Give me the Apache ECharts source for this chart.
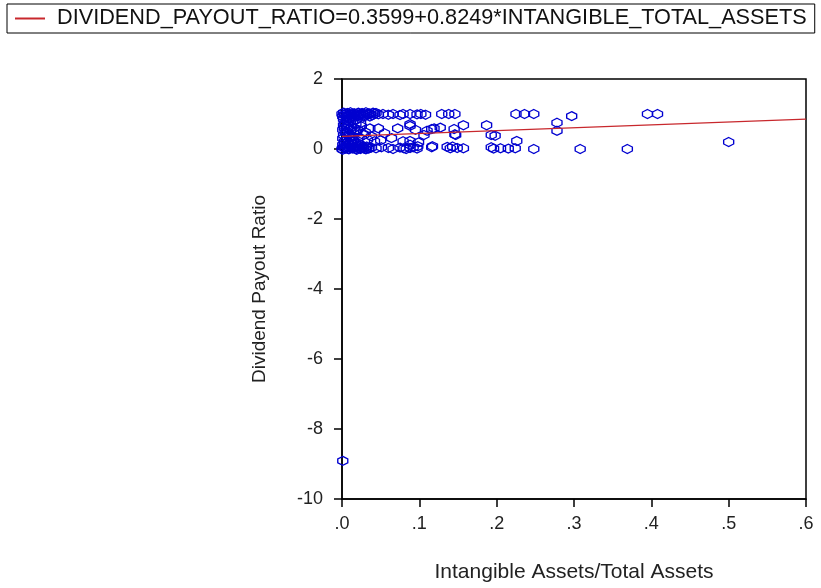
<!DOCTYPE html>
<html>
<head>
<meta charset="utf-8">
<script src="https://cdn.jsdelivr.net/npm/echarts@6/dist/echarts.min.js"></script>
<style>
html,body{margin:0;padding:0;background:#fff;}
#chart{width:821px;height:588px;}
</style>
</head>
<body>
<div id="chart"></div>
<script>
// Scatter observations: intangible assets / total assets (x), dividend payout ratio (y)
const intangibleRatio = [
  0.000,0.003,0.005,0.008,0.010,0.012,0.015,0.017,0.019,0.022,0.024,0.027,0.029,0.032,0.034,0.037,0.039,0.042,0.047,0.053,
  0.060,0.066,0.075,0.079,0.088,0.097,0.102,0.108,0.129,0.138,0.146,0.225,0.236,0.248,0.395,0.408,
  0.001,0.006,0.013,0.020,0.028,0.036,0.002,0.007,0.011,0.016,0.021,0.026,0.031,0.035,0.040,0.044,
  0.002,0.006,0.010,0.014,0.004,0.009,0.018,
  0.004,0.008,0.003,0.012,0.018,0.006,0.015,0.002,0.010,0.020,0.025,0.030,0.036,0.047,0.072,0.088,0.038,0.055,0.064,0.042,
  0.050,0.079,0.088,0.001,0.005,0.013,0.022,0.028,0.033,0.001,0.004,0.007,0.011,0.016,0.002,0.009,0.014,0.019,0.024,
  0.088,0.110,0.116,0.127,0.146,0.157,0.187,0.198,0.226,0.088,0.099,0.119,0.106,0.145,0.147,0.193,0.095,0.278,0.278,0.297,0.500,
  0.000,0.002,0.004,0.006,0.008,0.010,0.012,0.014,0.016,0.018,0.020,0.022,0.024,0.026,0.028,0.030,0.032,0.034,0.038,0.044,
  0.051,0.060,0.066,0.075,0.080,0.083,0.088,0.092,0.097,0.098,0.116,0.117,0.136,0.140,0.143,0.149,0.157,0.193,0.196,0.205,
  0.215,0.224,0.248,0.308,0.369,
  0.001,0.003,0.007,0.011,0.017,0.021,0.001,0.005,0.009,0.013,0.019,0.023,0.027,0.031,0.035,0.003,0.008,0.015,0.025,
  0.001
];
const payoutRatio = [
  1.00,0.98,1.00,0.97,1.00,0.99,1.00,0.96,1.00,0.98,1.00,1.00,0.97,1.00,0.99,1.00,0.96,1.00,0.99,1.00,
  0.98,1.00,0.97,1.00,1.00,0.99,1.00,0.98,1.00,1.00,1.00,1.00,1.00,1.00,1.00,1.00,
  0.93,0.92,0.94,0.93,0.92,0.93,1.04,1.03,1.05,1.02,1.04,1.03,1.05,1.02,1.04,1.03,
  0.85,0.82,0.86,0.80,0.77,0.78,0.84,
  0.70,0.69,0.60,0.62,0.72,0.50,0.45,0.40,0.35,0.55,0.65,0.48,0.59,0.59,0.59,0.66,0.36,0.45,0.31,0.22,
  0.25,0.22,0.12,0.30,0.25,0.28,0.33,0.40,0.27,0.55,0.48,0.62,0.52,0.60,0.68,0.42,0.36,0.50,0.74,
  0.71,0.52,0.57,0.61,0.42,0.68,0.68,0.38,0.23,0.23,0.19,0.59,0.40,0.57,0.40,0.40,0.55,0.75,0.52,0.94,0.20,
  0.00,0.05,0.02,0.08,0.00,0.04,0.10,0.01,0.06,0.00,0.03,0.09,0.00,0.05,0.02,0.00,0.07,0.01,0.04,0.02,
  0.05,0.03,0.00,0.04,0.02,0.00,0.03,0.05,0.01,0.08,0.05,0.08,0.06,0.02,0.07,0.03,0.02,0.05,0.01,0.02,
  0.01,0.02,0.00,0.00,0.00,
  0.12,0.15,0.13,0.18,0.17,0.16,-0.02,0.01,-0.01,0.03,-0.02,0.02,0.06,-0.01,0.02,0.22,0.20,0.24,0.11,
  -8.91
];
// Fitted regression line endpoints
const fitX = [0.0, 0.6];
const fitY = [0.3599, 0.8548];
const fitLabel = 'DIVIDEND_PAYOUT_RATIO=0.3599+0.8249*INTANGIBLE_TOTAL_ASSETS';
const xTicks = ['.0', '.1', '.2', '.3', '.4', '.5', '.6'];
const yTicks = [2, 0, -2, -4, -6, -8, -10];

const pts = intangibleRatio.map((x, i) => [x, payoutRatio[i]]);
const fitPts = fitX.map((x, i) => [x, fitY[i]]);

const chart = echarts.init(document.getElementById('chart'));
const FONT = '"Liberation Sans", Arial, sans-serif';
chart.setOption({
  animation: false,
  backgroundColor: '#fff',
  legend: {
    left: 7, top: 4,
    padding: [2, 8, 2, 8],
    borderColor: '#000', borderWidth: 1,
    itemWidth: 30, itemHeight: 2, itemGap: 10,
    data: [{name: fitLabel, icon: 'rect'}],
    textStyle: {fontFamily: FONT, fontSize: 21.7, lineHeight: 25, color: '#111', padding: [0,0,0,7]}
  },
  grid: {left: 342, right: 15, top: 79, bottom: 82, show: true, borderColor: '#000', borderWidth: 1.5, containLabel: false},
  xAxis: {
    type: 'value', min: 0, max: 0.6, interval: 0.1,
    name: 'Intangible Assets/Total Assets', nameLocation: 'middle', nameGap: 63,
    nameTextStyle: {fontFamily: FONT, fontSize: 21, color: '#222'},
    axisLine: {onZero: false, lineStyle: {color: '#000', width: 1.5}},
    axisTick: {show: true, length: 8, lineStyle: {color: '#000', width: 1.5}},
    splitLine: {show: false},
    axisLabel: {fontFamily: FONT, fontSize: 18, color: '#222', margin: 16,
      formatter: v => xTicks[Math.round(v * 10)]}
  },
  yAxis: {
    type: 'value', min: -10, max: 2, interval: 2,
    name: 'Dividend Payout Ratio', nameLocation: 'middle', nameGap: 73,
    nameTextStyle: {fontFamily: FONT, fontSize: 19, color: '#222'},
    axisLine: {onZero: false, lineStyle: {color: '#000', width: 1.5}},
    axisTick: {show: true, length: 8, lineStyle: {color: '#000', width: 1.5}},
    splitLine: {show: false},
    axisLabel: {fontFamily: FONT, fontSize: 18, color: '#222', margin: 19,
      formatter: v => String(yTicks[yTicks.indexOf(v)])}
  },
  series: [
    {
      type: 'scatter', name: 'obs',
      data: pts,
      symbol: 'path://M0,-5 L4,-2.2 L4,2.2 L0,5 L-4,2.2 L-4,-2.2 Z',
      symbolSize: [10, 9],
      itemStyle: {color: 'rgba(0,0,0,0)', borderColor: '#0000d0', borderWidth: 1.3, opacity: 1},
      z: 2
    },
    {
      type: 'line', name: fitLabel,
      data: fitPts,
      showSymbol: false,
      lineStyle: {color: '#c8282d', width: 1.3},
      itemStyle: {color: '#c8282d'},
      z: 3
    }
  ]
});
</script>
</body>
</html>
